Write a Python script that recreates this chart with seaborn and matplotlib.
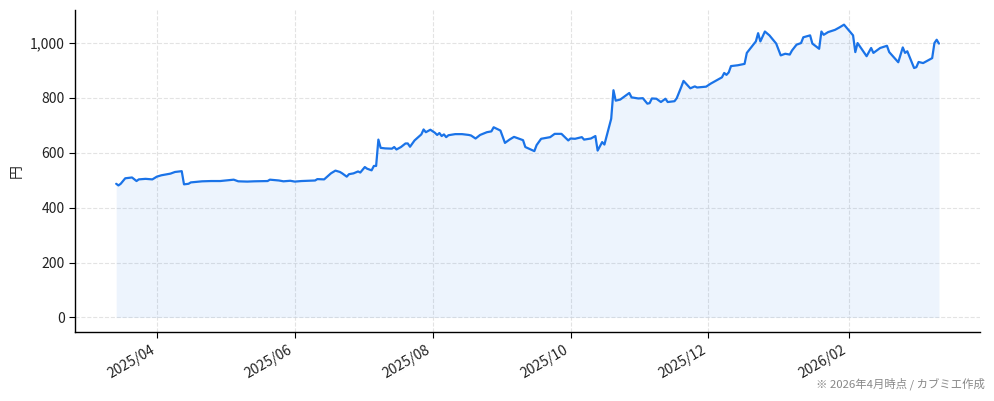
import matplotlib
matplotlib.use("Agg")
import matplotlib.pyplot as plt
import matplotlib.dates as mdates
import matplotlib.ticker as mticker
import pandas as pd
import seaborn as sns

# 株価の終値 (円) - 目視での読み取り
dates = [
    "2025-03-14", "2025-03-15", "2025-03-16", "2025-03-18", "2025-03-21",
    "2025-03-23", "2025-03-24", "2025-03-27", "2025-03-30", "2025-04-01",
    "2025-04-03", "2025-04-07", "2025-04-09", "2025-04-12", "2025-04-13",
    "2025-04-15", "2025-04-16", "2025-04-21", "2025-04-25", "2025-04-29",
    "2025-05-05", "2025-05-07", "2025-05-11", "2025-05-14", "2025-05-20",
    "2025-05-21", "2025-05-25", "2025-05-27", "2025-05-30", "2025-06-01",
    "2025-06-04", "2025-06-10", "2025-06-11", "2025-06-14", "2025-06-17",
    "2025-06-19", "2025-06-21", "2025-06-22", "2025-06-24", "2025-06-25",
    "2025-06-27", "2025-06-29", "2025-06-30", "2025-07-02", "2025-07-03",
    "2025-07-05", "2025-07-06", "2025-07-07", "2025-07-08", "2025-07-09",
    "2025-07-11", "2025-07-14", "2025-07-15", "2025-07-16", "2025-07-18",
    "2025-07-20", "2025-07-21", "2025-07-22", "2025-07-24", "2025-07-27",
    "2025-07-28", "2025-07-29", "2025-07-31", "2025-08-02", "2025-08-03",
    "2025-08-04", "2025-08-05", "2025-08-06", "2025-08-07", "2025-08-08",
    "2025-08-11", "2025-08-14", "2025-08-17", "2025-08-18", "2025-08-20",
    "2025-08-22", "2025-08-25", "2025-08-27", "2025-08-28", "2025-08-31",
    "2025-09-02", "2025-09-04", "2025-09-06", "2025-09-10", "2025-09-11",
    "2025-09-15", "2025-09-16", "2025-09-18", "2025-09-22", "2025-09-24",
    "2025-09-27", "2025-09-30", "2025-10-01", "2025-10-03", "2025-10-06",
    "2025-10-07", "2025-10-10", "2025-10-12", "2025-10-13", "2025-10-15",
    "2025-10-16", "2025-10-19", "2025-10-20", "2025-10-21", "2025-10-23",
    "2025-10-27", "2025-10-28", "2025-10-31", "2025-11-02", "2025-11-04",
    "2025-11-05", "2025-11-06", "2025-11-08", "2025-11-10", "2025-11-12",
    "2025-11-13", "2025-11-16", "2025-11-17", "2025-11-19", "2025-11-20",
    "2025-11-23", "2025-11-25", "2025-11-26", "2025-11-30", "2025-12-02",
    "2025-12-07", "2025-12-08", "2025-12-09", "2025-12-10", "2025-12-11",
    "2025-12-14", "2025-12-17", "2025-12-18", "2025-12-22", "2025-12-23",
    "2025-12-24", "2025-12-26", "2025-12-28", "2025-12-31", "2026-01-02",
    "2026-01-04", "2026-01-06", "2026-01-07", "2026-01-09", "2026-01-11",
    "2026-01-12", "2026-01-15", "2026-01-16", "2026-01-19", "2026-01-20",
    "2026-01-21", "2026-01-23", "2026-01-26", "2026-01-28", "2026-01-30",
    "2026-02-03", "2026-02-04", "2026-02-05", "2026-02-09", "2026-02-11",
    "2026-02-12", "2026-02-15", "2026-02-18", "2026-02-19", "2026-02-23",
    "2026-02-25", "2026-02-26", "2026-02-27", "2026-03-02", "2026-03-03",
    "2026-03-04", "2026-03-06", "2026-03-10", "2026-03-11", "2026-03-12",
    "2026-03-13",
]
prices = [
    487, 481, 487, 507, 510,
    497, 503, 505, 503, 513,
    518, 524, 530, 533, 485,
    487, 492, 496, 497, 497,
    502, 496, 495, 496, 497,
    502, 499, 496, 498, 495,
    497, 499, 504, 503, 525,
    535, 530, 525, 513, 522,
    525, 532, 528, 548, 542,
    536, 552, 552, 648, 618,
    616, 615, 621, 612, 621,
    634, 634, 622, 645, 667,
    685, 675, 684, 673, 665,
    672, 661, 667, 657, 664,
    668, 668, 665, 663, 652,
    665, 675, 678, 693, 681,
    636, 648, 658, 646, 621,
    606, 628, 651, 657, 669,
    669, 645, 652, 651, 657,
    648, 652, 661, 608, 639,
    630, 724, 828, 790, 794,
    818, 802, 798, 799, 779,
    781, 798, 797, 785, 797,
    785, 788, 799, 840, 862,
    835, 842, 838, 841, 852,
    875, 891, 884, 893, 916,
    919, 924, 964, 1006, 1036,
    1006, 1042, 1028, 998, 955,
    961, 958, 973, 994, 1000,
    1021, 1028, 998, 979, 1042,
    1030, 1040, 1048, 1057, 1067,
    1028, 967, 1000, 952, 982,
    964, 982, 990, 967, 930,
    984, 964, 970, 909, 912,
    931, 927, 945, 1000, 1012,
    998,
]

df = pd.DataFrame({"date": pd.to_datetime(dates), "price": prices})

sns.set_theme(style="white")
plt.rcParams["font.family"] = ["Noto Sans CJK JP", "DejaVu Sans"]

line_color = "#1a73e8"

fig, ax = plt.subplots(figsize=(9.94, 4.01), dpi=100)
fig.subplots_adjust(left=0.0755, right=0.986, top=0.975, bottom=0.172)

sns.lineplot(data=df, x="date", y="price", ax=ax, color=line_color, linewidth=1.6)
ax.fill_between(df["date"], df["price"], 0, color=line_color, alpha=0.08, linewidth=0)

ax.grid(True, linestyle="--", color="#dddddd", linewidth=0.8, alpha=0.8)
ax.set_axisbelow(True)
sns.despine(ax=ax)
for side in ["left", "bottom"]:
    ax.spines[side].set_color("black")
    ax.spines[side].set_linewidth(1.0)

ax.xaxis.set_major_locator(mdates.MonthLocator(bymonth=[2, 4, 6, 8, 10, 12]))
ax.xaxis.set_major_formatter(mdates.DateFormatter("%Y/%m"))
ax.yaxis.set_major_formatter(mticker.FuncFormatter(lambda v, p: f"{int(v):,}"))
ax.tick_params(axis="both", which="major", labelsize=10, length=4, width=0.8,
               color="black", labelcolor="#222222", bottom=True, left=True)
plt.setp(ax.get_xticklabels(), rotation=30, ha="right")

ax.set_xlabel("")
ax.set_ylabel("円", fontsize=10)

fig.text(0.991, 0.028, "※ 2026年4月時点 / カブミエ作成", ha="right", va="bottom",
         fontsize=8.2, color="#888888")

fig.savefig("out.png", dpi=100)
